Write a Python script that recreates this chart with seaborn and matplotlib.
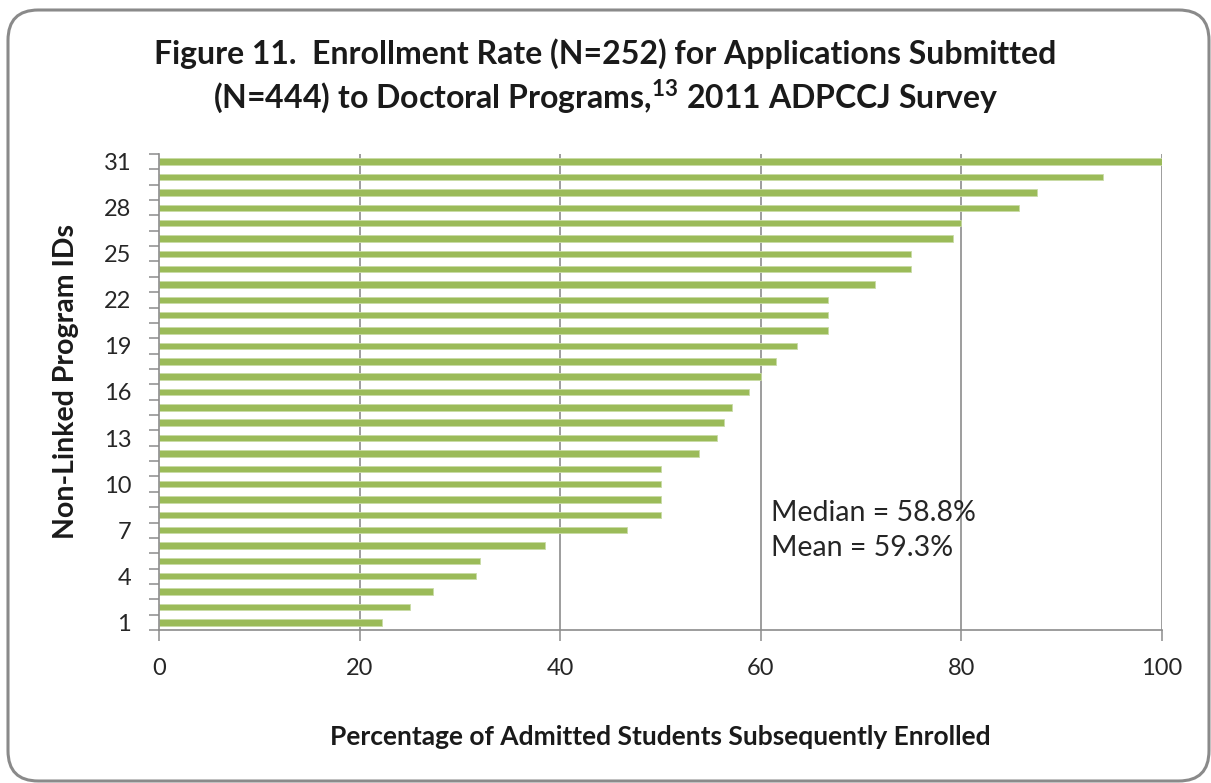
import matplotlib
matplotlib.use("Agg")
import matplotlib.pyplot as plt
from matplotlib.patches import FancyBboxPatch
from matplotlib.ticker import FixedLocator
import seaborn as sns
import pandas as pd

# Enrollment rate (%) for each non-linked program, ID 1..31
program_ids = list(range(1, 32))
enroll_rate = [22.2, 25.0, 27.3, 31.6, 32.0, 38.5, 46.7, 50.0, 50.0, 50.0,
               50.0, 53.8, 55.6, 56.3, 57.1, 58.8, 60.0, 61.5, 63.6, 66.7,
               66.7, 66.7, 71.4, 75.0, 75.0, 79.2, 80.0, 85.7, 87.5, 94.1,
               100.0]
x_ticks = [0, 20, 40, 60, 80, 100]
y_label_ids = list(range(1, 32, 3))

title = ("Figure 11.  Enrollment Rate (N=252) for Applications Submitted\n"
         r"(N=444) to Doctoral Programs,$^{\mathbf{13}}$ 2011 ADPCCJ Survey")
x_title = "Percentage of Admitted Students Subsequently Enrolled"
y_title = "Non-Linked Program IDs"
stats_text = "Median = 58.8%\nMean = 59.3%"

df = pd.DataFrame({"id": program_ids, "rate": enroll_rate})

sns.set_theme(style="white")
plt.rcParams["font.family"] = ["Lato", "DejaVu Sans"]
plt.rcParams["mathtext.fontset"] = "custom"
plt.rcParams["mathtext.rm"] = "Lato"
plt.rcParams["mathtext.bf"] = "Lato:bold"

W, H = 1211, 783
fig = plt.figure(figsize=(W / 100, H / 100), dpi=100)
ax = fig.add_axes([159 / W, 1 - 630 / H, (1162 - 159) / W, (630 - 154) / H])

grey = "#8c8c8c"
for v in x_ticks[1:]:
    ax.axvline(v, color=grey, lw=1.2, zorder=0)

sns.barplot(data=df, x="rate", y="id", orient="h", native_scale=True,
            color="#9bbb59", saturation=1, width=0.42,
            edgecolor="#c9dba6", linewidth=0.6, ax=ax, zorder=2)

ax.set_xlim(0, 100)
ax.set_ylim(0.5, 31.5)
ax.set_xticks(x_ticks)
ax.set_yticks(y_label_ids)
ax.set_yticklabels([str(i) for i in y_label_ids])
ax.yaxis.set_minor_locator(FixedLocator([i + 0.5 for i in range(0, 32)]))

for side in ["top", "right"]:
    ax.spines[side].set_visible(False)
for side in ["left", "bottom"]:
    ax.spines[side].set_color(grey)
    ax.spines[side].set_linewidth(1.2)

ax.tick_params(axis="y", which="major", length=0, pad=20,
               labelsize=17, labelcolor="#262626")
ax.tick_params(axis="y", which="minor", length=7, width=1.1, color=grey,
               left=True, direction="out")
ax.tick_params(axis="x", which="major", length=8, width=1.1, color=grey,
               bottom=True, direction="out", pad=12,
               labelsize=17, labelcolor="#262626")

ax.set_xlabel(x_title, fontsize=19, fontweight="bold", color="#1a1a1a",
              labelpad=33)
ax.set_ylabel(y_title, fontsize=20.5, fontweight="bold", color="#1a1a1a")
ax.yaxis.set_label_coords(-0.080, 0.523)

ax.text(61.0, 7.0, stats_text, fontsize=20.5, color="#262626",
        va="center", ha="left", linespacing=1.42, zorder=1)

fig.text(0.5, 1 - 77 / H, title, ha="center", va="center", fontsize=23,
         fontweight="bold", color="#1a1a1a", linespacing=1.3)

frame = FancyBboxPatch((8 / W, 2 / H), 1201 / W, 771 / H,
                       boxstyle="round,pad=0,rounding_size=0.025",
                       transform=fig.transFigure, fill=False,
                       edgecolor="#8a8a8a", linewidth=2.2,
                       mutation_aspect=W / H)
fig.patches.append(frame)

fig.savefig("out.png", dpi=100, facecolor="white")
